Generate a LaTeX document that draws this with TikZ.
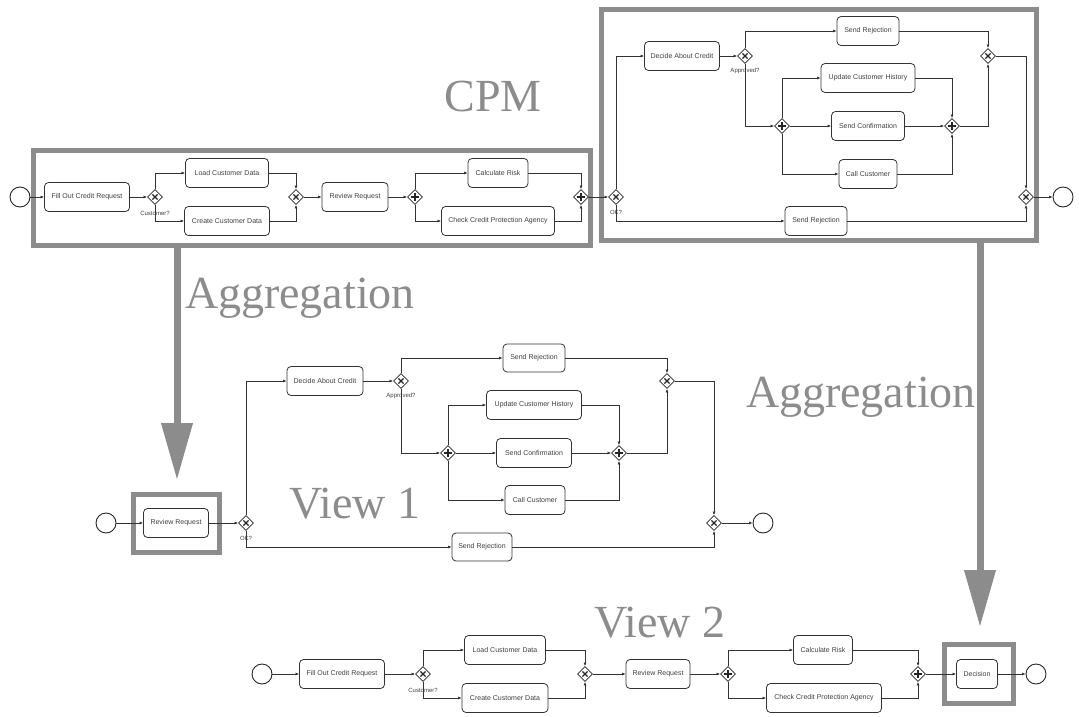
\documentclass[tikz,border=0pt]{standalone}
\usepackage{fontspec}
\setmainfont{Liberation Serif}
\setsansfont{Liberation Sans}
\usetikzlibrary{arrows.meta,shapes.geometric}

\tikzset{
  task/.style={draw=black!80, line width=0.8pt, rounded corners=4pt, fill=white,
    minimum height=29pt, inner sep=0pt,
    font=\sffamily\fontsize{7}{8}\selectfont, text=black!75},
  gw/.style={diamond, draw=black!85, line width=0.8pt, fill=white,
    minimum width=15pt, minimum height=15pt, inner sep=0pt},
  xorgw/.style={gw, path picture={
    \draw[line width=1.1pt]
      ([shift={(-2.6pt,-2.6pt)}]path picture bounding box.center) -- ++(5.2pt,5.2pt)
      ([shift={(-2.6pt,2.6pt)}]path picture bounding box.center) -- ++(5.2pt,-5.2pt);}},
  andgw/.style={gw, path picture={
    \draw[line width=1.1pt]
      ([shift={(-3.6pt,0pt)}]path picture bounding box.center) -- ++(7.2pt,0pt)
      ([shift={(0pt,-3.6pt)}]path picture bounding box.center) -- ++(0pt,7.2pt);}},
  event/.style={circle, draw=black!85, line width=0.9pt, minimum size=20pt,
    inner sep=0pt, fill=white},
  flow/.style={draw=black!80, line width=0.7pt, -{Latex[length=3.5pt,width=3pt]}},
  frame/.style={draw=black!45, line width=5pt, inner sep=0pt},
  agg/.style={draw=black!45, line width=7pt, -{Triangle[length=57pt,width=30pt]}},
  title/.style={font=\fontsize{46}{50}\selectfont, text=black!45, anchor=base},
  cond/.style={font=\sffamily\fontsize{6}{7}\selectfont, text=black!75},
}

\begin{document}
\begin{tikzpicture}[x=1pt, y=-1pt]
\useasboundingbox (0,0) rectangle (1079,717);

% ---------- frames around the aggregated regions ----------
\node[frame, minimum width=557pt, minimum height=95pt] (boxA) at (311.5,197.5) {};
\node[frame, minimum width=435pt, minimum height=230pt] (boxB) at (818.5,125) {};
\node[frame, minimum width=86pt, minimum height=58pt] (boxC) at (176,523) {};
\node[frame, minimum width=69pt, minimum height=59pt] (boxD) at (978.5,673.5) {};

% ---------- titles ----------
\node[title] (tCPM) at (493,111) {CPM};
\node[title] (tAggL) at (300,308) {Aggregation};
\node[title] (tAggR) at (861,407) {Aggregation};
\node[title] (tV1) at (355,518) {View 1};
\node[title] (tV2) at (660,637) {View 2};

% ---------- aggregation arrows ----------
\coordinate (aggL) at (177,480);
\coordinate (aggR) at (980,627);
\draw[agg] (boxA.south -| aggL) -- (aggL);
\draw[agg] (boxB.south -| aggR) -- (aggR);

% ================= CPM =================
\node[event] (s1) at (20,197) {};
\node[task, minimum width=85pt] (fill1) at (87,197) {Fill Out Credit Request};
\node[xorgw] (g1) at (155,197) {};
\node[cond] (c1) at (155,213) {Customer?};
\node[task, minimum width=83pt] (load1) at (227,173) {Load Customer Data};
\node[task, minimum width=85pt] (create1) at (227,221) {Create Customer Data};
\node[xorgw] (g2) at (296,197) {};
\node[task, minimum width=66pt] (review1) at (355,197) {Review Request};
\node[andgw] (p1) at (415,197) {};
\node[task, minimum width=60pt] (calc1) at (498,173) {Calculate Risk};
\node[task, minimum width=113pt] (check1) at (498,221) {Check Credit Protection Agency};
\node[andgw] (p2) at (581,197) {};
\node[xorgw] (ok1) at (616,197) {};
\node[cond] (c2) at (616,212) {OK?};
\node[task, minimum width=75pt] (decide1) at (682,56) {Decide About Credit};
\node[xorgw] (ap1) at (745,56) {};
\node[cond] (c3) at (745,71) {Approved?};
\node[task, minimum width=62pt] (rejA1) at (868,31) {Send Rejection};
\node[task, minimum width=94pt] (update1) at (868,78) {Update Customer History};
\node[andgw] (pl1) at (782,126) {};
\node[task, minimum width=73pt] (confirm1) at (868,126) {Send Confirmation};
\node[andgw] (pr1) at (952,126) {};
\node[task, minimum width=58pt] (call1) at (868,174) {Call Customer};
\node[xorgw] (jx1) at (988,56) {};
\node[task, minimum width=62pt] (rejB1) at (816,221) {Send Rejection};
\node[xorgw] (je1) at (1026,197) {};
\node[event] (e1) at (1063,197) {};

\draw[flow] (s1) -- (fill1);
\draw[flow] (fill1) -- (g1);
\draw[flow] (g1.north) |- (load1.west);
\draw[flow] (g1.south) |- (create1.west);
\draw[flow] (load1.east) -| (g2.north);
\draw[flow] (create1.east) -| (g2.south);
\draw[flow] (g2) -- (review1);
\draw[flow] (review1) -- (p1);
\draw[flow] (p1.north) |- (calc1.west);
\draw[flow] (p1.south) |- (check1.west);
\draw[flow] (calc1.east) -| (p2.north);
\draw[flow] (check1.east) -| (p2.south);
\draw[flow] (p2) -- (ok1);
\draw[flow] (ok1.north) |- (decide1.west);
\draw[flow] (ok1.south) |- (rejB1.west);
\draw[flow] (decide1) -- (ap1);
\draw[flow] (ap1.north) |- (rejA1.west);
\draw[flow] (ap1.south) |- (pl1.west);
\draw[flow] (pl1.north) |- (update1.west);
\draw[flow] (pl1) -- (confirm1);
\draw[flow] (pl1.south) |- (call1.west);
\draw[flow] (update1.east) -| (pr1.north);
\draw[flow] (confirm1) -- (pr1);
\draw[flow] (call1.east) -| (pr1.south);
\draw[flow] (rejA1.east) -| (jx1.north);
\draw[flow] (pr1.east) -| (jx1.south);
\draw[flow] (jx1.east) -| (je1.north);
\draw[flow] (rejB1.east) -| (je1.south);
\draw[flow] (je1) -- (e1);

% ================= View 1 =================
\node[event] (s2) at (106,523) {};
\node[task, minimum width=65pt] (review2) at (176,523) {Review Request};
\node[xorgw] (ok2) at (246,523) {};
\node[cond] (c4) at (246,538) {OK?};
\node[task, minimum width=76pt] (decide2) at (325,381) {Decide About Credit};
\node[xorgw] (ap2) at (401,381) {};
\node[cond] (c5) at (401,396) {Approved?};
\node[task, minimum width=62pt, minimum height=28pt] (rejA2) at (534,358) {Send Rejection};
\node[task, minimum width=95pt] (update2) at (534,405) {Update Customer History};
\node[andgw] (pl2) at (448,453) {};
\node[task, minimum width=75pt] (confirm2) at (534,453) {Send Confirmation};
\node[andgw] (pr2) at (619,453) {};
\node[task, minimum width=60pt] (call2) at (535,500) {Call Customer};
\node[task, minimum width=60pt, minimum height=28pt] (rejB2) at (482,547) {Send Rejection};
\node[xorgw] (jx2) at (667,381) {};
\node[xorgw] (je2) at (714,523) {};
\node[event] (e2) at (763,523) {};

\draw[flow] (s2) -- (review2);
\draw[flow] (review2) -- (ok2);
\draw[flow] (ok2.north) |- (decide2.west);
\draw[flow] (ok2.south) |- (rejB2.west);
\draw[flow] (decide2) -- (ap2);
\draw[flow] (ap2.north) |- (rejA2.west);
\draw[flow] (ap2.south) |- (pl2.west);
\draw[flow] (pl2.north) |- (update2.west);
\draw[flow] (pl2) -- (confirm2);
\draw[flow] (pl2.south) |- (call2.west);
\draw[flow] (update2.east) -| (pr2.north);
\draw[flow] (confirm2) -- (pr2);
\draw[flow] (call2.east) -| (pr2.south);
\draw[flow] (rejA2.east) -| (jx2.north);
\draw[flow] (pr2.east) -| (jx2.south);
\draw[flow] (jx2.east) -| (je2.north);
\draw[flow] (rejB2.east) -| (je2.south);
\draw[flow] (je2) -- (e2);

% ================= View 2 =================
\node[event] (s3) at (262,674) {};
\node[task, minimum width=85pt] (fill3) at (342,674) {Fill Out Credit Request};
\node[xorgw] (g3) at (423,674) {};
\node[cond] (c6) at (423,690) {Customer?};
\node[task, minimum width=81pt] (load3) at (505,650) {Load Customer Data};
\node[task, minimum width=86pt] (create3) at (505,698) {Create Customer Data};
\node[xorgw] (g4) at (585,674) {};
\node[task, minimum width=64pt] (review3) at (658,674) {Review Request};
\node[andgw] (p3) at (728,674) {};
\node[task, minimum width=59pt] (calc3) at (823,650) {Calculate Risk};
\node[task, minimum width=115pt] (check3) at (824,698) {Check Credit Protection Agency};
\node[andgw] (p4) at (918,674) {};
\node[task, minimum width=41pt] (dec3) at (977,674) {Decision};
\node[event] (e3) at (1036,674) {};

\draw[flow] (s3) -- (fill3);
\draw[flow] (fill3) -- (g3);
\draw[flow] (g3.north) |- (load3.west);
\draw[flow] (g3.south) |- (create3.west);
\draw[flow] (load3.east) -| (g4.north);
\draw[flow] (create3.east) -| (g4.south);
\draw[flow] (g4) -- (review3);
\draw[flow] (review3) -- (p3);
\draw[flow] (p3.north) |- (calc3.west);
\draw[flow] (p3.south) |- (check3.west);
\draw[flow] (calc3.east) -| (p4.north);
\draw[flow] (check3.east) -| (p4.south);
\draw[flow] (p4) -- (dec3);
\draw[flow] (dec3) -- (e3);
\end{tikzpicture}
\end{document}
